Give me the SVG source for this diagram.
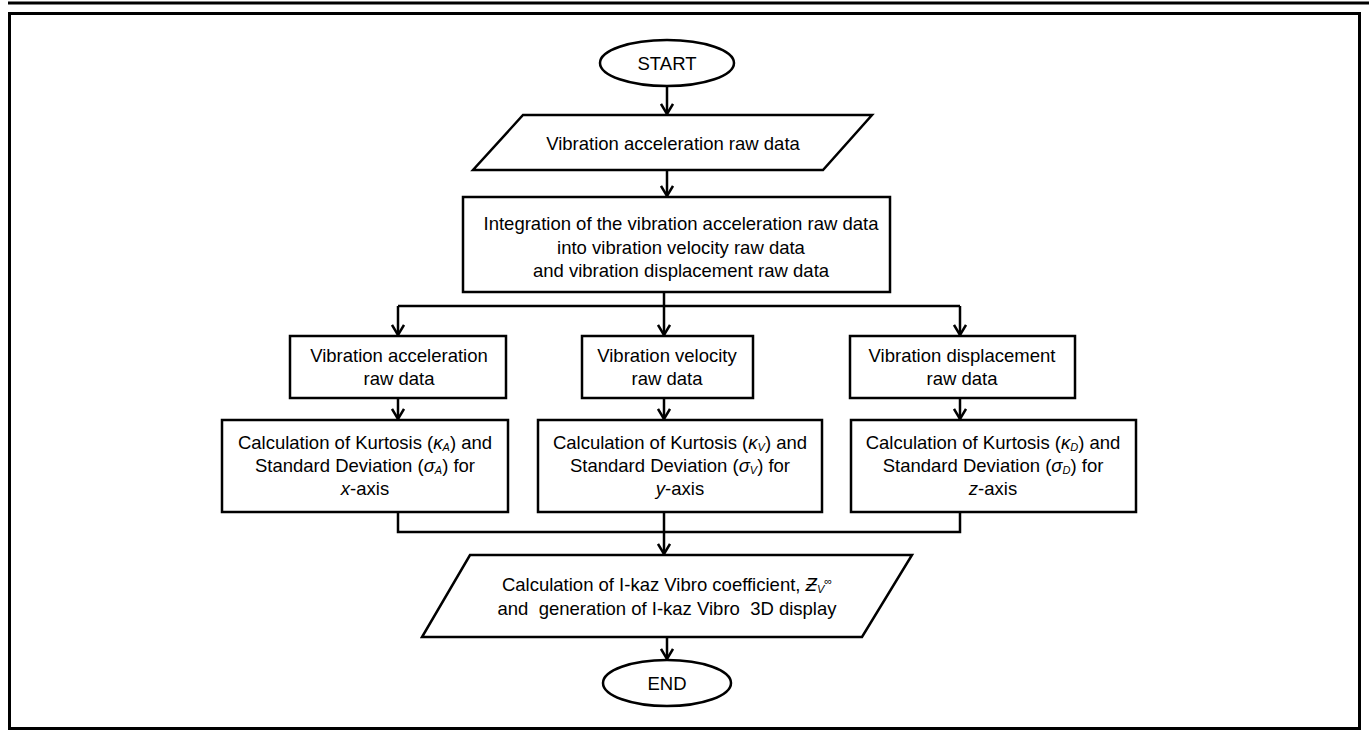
<svg xmlns="http://www.w3.org/2000/svg" width="1369" height="731" viewBox="0 0 1369 731">
<style>
.s{fill:#fff;stroke:#000;stroke-width:2.5}
.c{fill:none;stroke:#000;stroke-width:2.5}
text{font-family:"Liberation Sans",Arial,sans-serif;font-size:18.5px;fill:#000;text-anchor:middle}
.i{font-style:italic}
.sb{font-size:11px;font-style:italic}
</style>
<defs>
<marker id="a" markerWidth="14" markerHeight="14" refX="12" refY="7" orient="auto" markerUnits="userSpaceOnUse" viewBox="0 0 14 14">
<path d="M2,1 L12,7 L2,13" fill="none" stroke="#000" stroke-width="2.5"/>
</marker>
</defs>
<rect width="1369" height="731" fill="#fff"/>
<line x1="8" y1="3" x2="1369" y2="3" stroke="#000" stroke-width="3"/>
<rect x="9.5" y="13.5" width="1350" height="715" fill="none" stroke="#000" stroke-width="3"/>
<g id="connectors">
<line class="c" x1="667" y1="86" x2="667" y2="114" marker-end="url(#a)"/>
<line class="c" x1="667" y1="170" x2="667" y2="196" marker-end="url(#a)"/>
<polyline class="c" points="664,292 664,306"/>
<line class="c" x1="398" y1="306" x2="960" y2="306"/>
<line class="c" x1="398" y1="306" x2="398" y2="335" marker-end="url(#a)"/>
<line class="c" x1="664" y1="306" x2="664" y2="335" marker-end="url(#a)"/>
<line class="c" x1="960" y1="306" x2="960" y2="335" marker-end="url(#a)"/>
<line class="c" x1="398" y1="398" x2="398" y2="419" marker-end="url(#a)"/>
<line class="c" x1="664" y1="398" x2="664" y2="419" marker-end="url(#a)"/>
<line class="c" x1="960" y1="398" x2="960" y2="419" marker-end="url(#a)"/>
<polyline class="c" points="398,512 398,532 960,532 960,512"/>
<line class="c" x1="664" y1="512" x2="664" y2="554" marker-end="url(#a)"/>
<line class="c" x1="667" y1="637" x2="667" y2="659" marker-end="url(#a)"/>
</g>
<g id="start">
<ellipse class="s" cx="667" cy="63" rx="67" ry="23"/>
<text x="667" y="70">START</text>
</g>
<g id="input">
<polygon class="s" points="523,115 872,115 823,170 473,170"/>
<text x="673" y="150">Vibration acceleration raw data</text>
</g>
<g id="integration">
<rect class="s" x="463" y="197" width="427" height="95"/>
<text x="681" y="230">Integration of the vibration acceleration raw data</text>
<text x="681" y="254">into vibration velocity raw data</text>
<text x="681" y="277">and vibration displacement raw data</text>
</g>
<g id="acc">
<rect class="s" x="290" y="336" width="216" height="62"/>
<text x="399" y="362">Vibration acceleration</text>
<text x="399" y="385">raw data</text>
</g>
<g id="vel">
<rect class="s" x="582" y="336" width="171" height="62"/>
<text x="667" y="362">Vibration velocity</text>
<text x="667" y="385">raw data</text>
</g>
<g id="disp">
<rect class="s" x="850" y="336" width="225" height="62"/>
<text x="962" y="362">Vibration displacement</text>
<text x="962" y="385">raw data</text>
</g>
<g id="calcx">
<rect class="s" x="222" y="420" width="286" height="92"/>
<text x="365" y="449">Calculation of Kurtosis (<tspan class="i">κ</tspan><tspan class="sb" baseline-shift="-2">A</tspan>) and</text>
<text x="365" y="472">Standard Deviation (<tspan class="i">σ</tspan><tspan class="sb" baseline-shift="-2">A</tspan>) for</text>
<text x="365" y="495"><tspan class="i">x</tspan>-axis</text>
</g>
<g id="calcy">
<rect class="s" x="538" y="420" width="284" height="92"/>
<text x="680" y="449">Calculation of Kurtosis (<tspan class="i">κ</tspan><tspan class="sb" baseline-shift="-2">V</tspan>) and</text>
<text x="680" y="472">Standard Deviation (<tspan class="i">σ</tspan><tspan class="sb" baseline-shift="-2">V</tspan>) for</text>
<text x="680" y="495"><tspan class="i">y</tspan>-axis</text>
</g>
<g id="calcz">
<rect class="s" x="851" y="420" width="285" height="92"/>
<text x="993" y="449">Calculation of Kurtosis (<tspan class="i">κ</tspan><tspan class="sb" baseline-shift="-2">D</tspan>) and</text>
<text x="993" y="472">Standard Deviation (<tspan class="i">σ</tspan><tspan class="sb" baseline-shift="-2">D</tspan>) for</text>
<text x="993" y="495"><tspan class="i">z</tspan>-axis</text>
</g>
<g id="output">
<polygon class="s" points="470,555 912,555 862,637 422,637"/>
<text x="667" y="591">Calculation of I-kaz Vibro coefficient, <tspan class="i">Ƶ</tspan><tspan class="sb" baseline-shift="-2">V</tspan><tspan font-size="11px" baseline-shift="6">∞</tspan></text>
<text x="667" y="615" xml:space="preserve">and  generation of I-kaz Vibro  3D display</text>
</g>
<g id="end">
<ellipse class="s" cx="667" cy="683" rx="64" ry="23"/>
<text x="667" y="690">END</text>
</g>
</svg>
